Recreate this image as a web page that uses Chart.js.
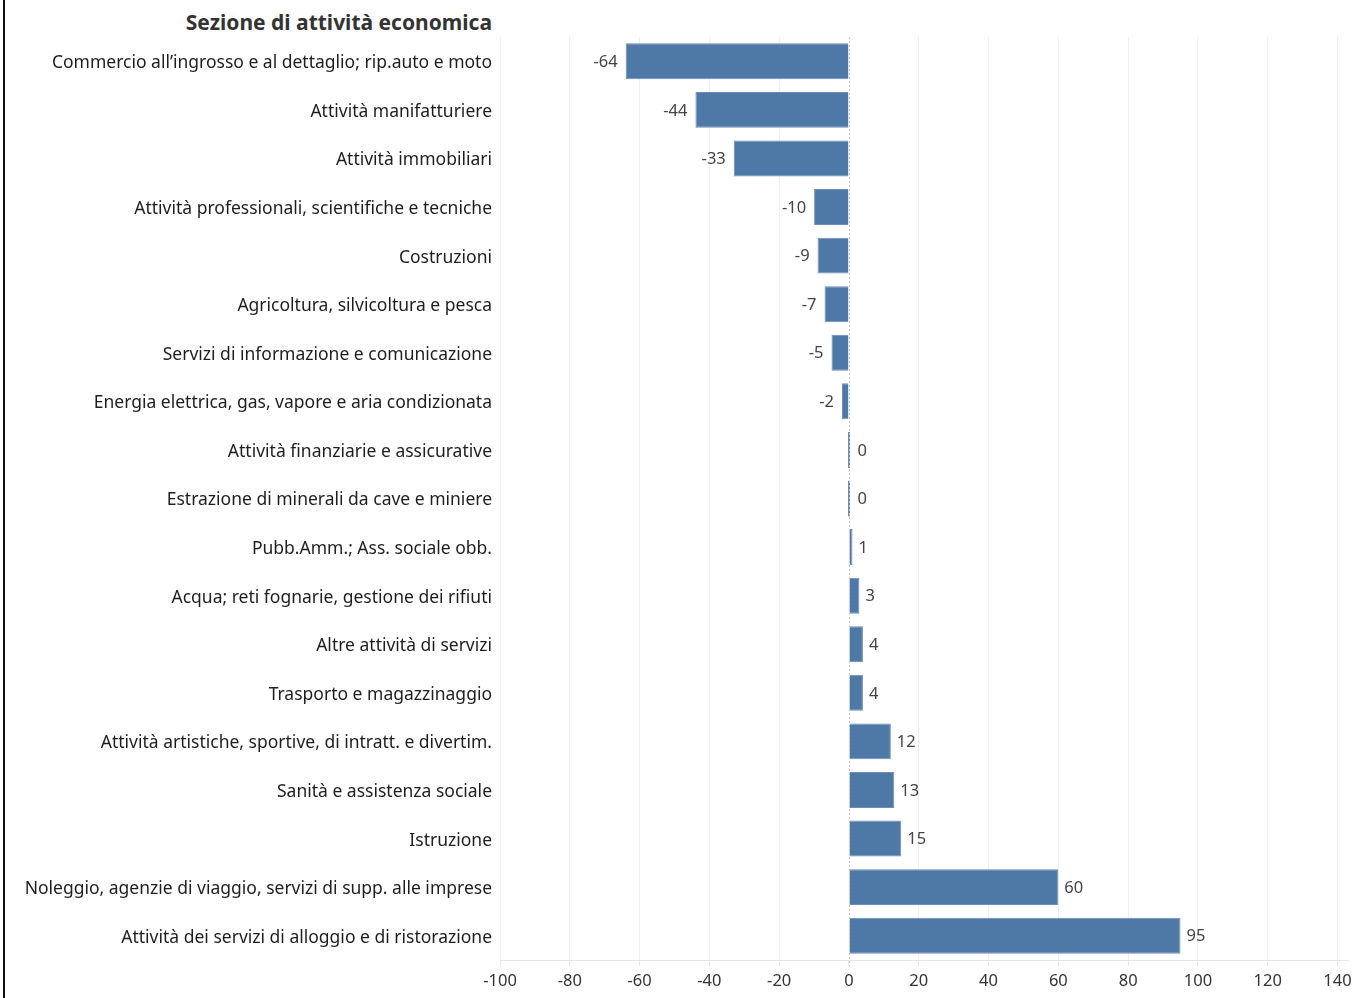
<!DOCTYPE html>
<html>
<head>
<meta charset="utf-8">
<script src="https://cdn.jsdelivr.net/npm/chart.js@4/dist/chart.umd.min.js"></script>
<style>
  html, body { margin: 0; padding: 0; background: #fff; }
  #wrap { position: relative; width: 1363px; height: 998px; }
  #edge { position: absolute; left: 3px; top: 0; width: 2px; height: 998px; background: #111; }
  #title {
    position: absolute; right: 871px; top: 8px;
    font: bold 21px "Noto Sans", sans-serif; color: #333; white-space: nowrap;
  }
  canvas { position: absolute; left: 0; top: 0; }
</style>
</head>
<body>
<div id="wrap">
  <div id="edge"></div>
  <div id="title">Sezione di attività economica</div>
  <canvas id="chart" width="1363" height="998"></canvas>
</div>
<script>
const categories = [
  "Commercio all’ingrosso e al dettaglio; rip.auto e moto",
  "Attività manifatturiere",
  "Attività immobiliari",
  "Attività professionali, scientifiche e tecniche",
  "Costruzioni",
  "Agricoltura, silvicoltura e pesca",
  "Servizi di informazione e comunicazione",
  "Energia elettrica, gas, vapore e aria condizionata",
  "Attività finanziarie e assicurative",
  "Estrazione di minerali da cave e miniere",
  "Pubb.Amm.; Ass. sociale obb.",
  "Acqua; reti fognarie, gestione dei rifiuti",
  "Altre attività di servizi",
  "Trasporto e magazzinaggio",
  "Attività artistiche, sportive, di intratt. e divertim.",
  "Sanità e assistenza sociale",
  "Istruzione",
  "Noleggio, agenzie di viaggio, servizi di supp. alle imprese",
  "Attività dei servizi di alloggio e di ristorazione"
];
const values = [-64, -44, -33, -10, -9, -7, -5, -2, 0, 0, 1, 3, 4, 4, 12, 13, 15, 60, 95];
const xMin = -100;
const xMax = 143;
const xStep = 20;

const fontFamily = '"Noto Sans", sans-serif';

// value labels next to each bar + dotted zero line
const barLabels = {
  id: "barLabels",
  afterDatasetsDraw(chart) {
    const ctx = chart.ctx;
    const meta = chart.getDatasetMeta(0);
    const xScale = chart.scales.x;
    const area = chart.chartArea;
    let x0 = Math.round(xScale.getPixelForValue(0)) + 0.5;
    ctx.save();
    ctx.strokeStyle = "#c8c8c8";
    ctx.lineWidth = 1;
    ctx.setLineDash([2, 2]);
    ctx.beginPath();
    ctx.moveTo(x0, area.top);
    ctx.lineTo(x0, area.bottom + 6);
    ctx.stroke();
    ctx.setLineDash([]);
    ctx.font = "16.5px " + fontFamily;
    ctx.fillStyle = "#444";
    ctx.textBaseline = "middle";
    meta.data.forEach(function (bar, i) {
      let v = values[i];
      if (v < 0) {
        ctx.textAlign = "right";
        ctx.fillText(String(v), bar.x - 8, bar.y + 1);
      } else {
        ctx.textAlign = "left";
        ctx.fillText(String(v), Math.max(bar.x, x0 + 2) + 6, bar.y + 1);
      }
    });
    ctx.restore();
  }
};

new Chart(document.getElementById("chart"), {
  type: "bar",
  data: {
    labels: categories,
    datasets: [{
      data: values,
      backgroundColor: "#4e79a7",
      borderColor: "#6b8db6",
      borderWidth: 1,
      barPercentage: 0.74,
      categoryPercentage: 1,
      minBarLength: 2
    }]
  },
  plugins: [barLabels],
  options: {
    indexAxis: "y",
    responsive: false,
    animation: false,
    layout: { padding: { top: 37, right: 15, left: 0, bottom: 0 } },
    plugins: {
      legend: { display: false },
      tooltip: { enabled: false }
    },
    scales: {
      x: {
        min: xMin,
        max: xMax,
        afterFit: function (scale) { scale.height = 38; },
        ticks: {
          stepSize: xStep,
          includeBounds: false,
          color: "#333",
          padding: 5,
          font: { family: fontFamily, size: 16.5 }
        },
        grid: {
          color: function (c) { return c.tick && c.tick.value === 0 ? "rgba(0,0,0,0)" : "#efefef"; },
          tickColor: "#e6e6e6",
          tickLength: 6
        },
        border: { display: true, color: "#e6e6e6" }
      },
      y: {
        afterFit: function (scale) { scale.width = 500; },
        ticks: {
          color: "#1e1e1e",
          padding: 8,
          labelOffset: 2,
          font: { family: fontFamily, size: 17.5 }
        },
        grid: { display: false, drawTicks: false },
        border: { display: false }
      }
    }
  }
});
</script>
</body>
</html>
